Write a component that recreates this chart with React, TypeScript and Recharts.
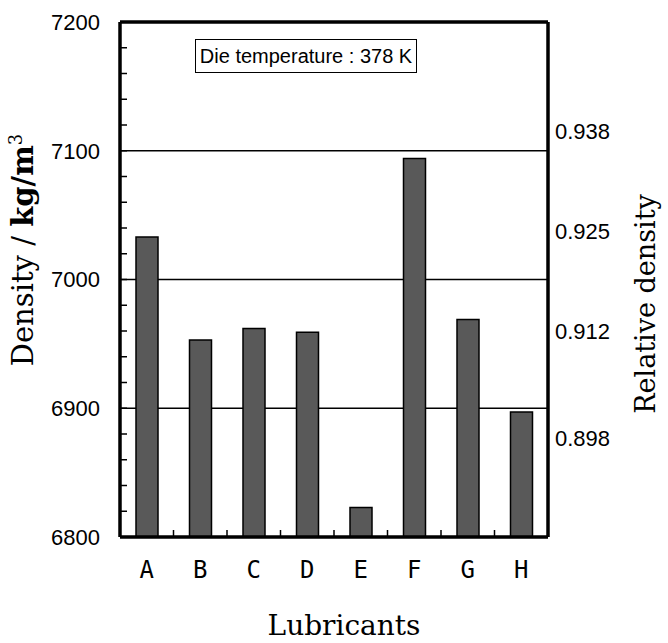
import { Bar, BarChart, CartesianGrid, ReferenceLine, XAxis, YAxis } from "recharts";

const LUBRICANTS = ["A", "B", "C", "D", "E", "F", "G", "H"];
const DENSITY = [7033, 6953, 6962, 6959, 6823, 7094, 6969, 6897];

// left axis: minor tick every 20, label every 100
const DENSITY_TICKS = [
  6800, 6820, 6840, 6860, 6880, 6900, 6920, 6940, 6960, 6980, 7000,
  7020, 7040, 7060, 7080, 7100, 7120, 7140, 7160, 7180, 7200,
];
const DENSITY_LABELS = [6800, 6900, 7000, 7100, 7200];
const GRID_LINES = [6900, 7000, 7100];

const RELATIVE_TICKS = [0.898, 0.912, 0.925, 0.938];
const RELATIVE_DOMAIN = [0.8852, 0.9522];

const data = LUBRICANTS.map((name, i) => ({ name, density: DENSITY[i] }));

const sans = "'Liberation Sans', Arial, sans-serif";
const serif = "'DejaVu Serif', serif";
const X_TICK_MARGIN = 24;

// category label plus a short inward mark on the right edge of its band
function CategoryTick(props: any) {
  const { x, y, payload, index, visibleTicksCount, width } = props;
  const axisY = y - X_TICK_MARGIN;
  const half = payload?.offset ?? (width && visibleTicksCount ? width / visibleTicksCount / 2 : 0);
  const edge = x + half;
  return (
    <g>
      {index < visibleTicksCount - 1 ? (
        <line x1={edge} x2={edge} y1={axisY} y2={axisY - 7} stroke="#000" strokeWidth={1.5} />
      ) : null}
      <text
        x={x}
        y={y}
        dy="0.71em"
        textAnchor="middle"
        fill="#000"
        fontSize={24}
        fontFamily="'Liberation Sans Narrow', 'DejaVu Sans Mono', monospace"
      >
        {payload.value}
      </text>
    </g>
  );
}

function DensityTitle() {
  const x = 33;
  const y = 250;
  return (
    <text
      x={x}
      y={y}
      transform={`rotate(-90 ${x} ${y})`}
      textAnchor="middle"
      fontFamily={serif}
      fontSize={29}
      fill="#000"
    >
      <tspan>Density / </tspan>
      <tspan fontWeight="bold">kg/m</tspan>
      <tspan dy={-11} fontSize={18}>3</tspan>
    </text>
  );
}

function RelativeTitle() {
  const x = 655;
  const y = 304;
  return (
    <text
      x={x}
      y={y}
      transform={`rotate(-90 ${x} ${y})`}
      textAnchor="middle"
      fontFamily={serif}
      fontSize={27}
      fill="#000"
    >
      Relative density
    </text>
  );
}

function LubricantsTitle() {
  return (
    <text x={344} y={635} textAnchor="middle" fontFamily={serif} fontSize={28} fill="#000">
      Lubricants
    </text>
  );
}

export default function App() {
  return (
    <div style={{ position: "relative", width: 668, height: 643, background: "#fff" }}>
      <style>{"body{margin:0}"}</style>
      <BarChart
        width={668}
        height={643}
        data={data}
        margin={{ top: 22, right: 0, bottom: 0, left: 0 }}
      >
        <CartesianGrid
          yAxisId="density"
          horizontal
          vertical={false}
          horizontalValues={GRID_LINES}
          stroke="#000"
          strokeWidth={1.5}
        />
        <XAxis
          dataKey="name"
          height={106}
          interval={0}
          tickLine={false}
          tickSize={0}
          tickMargin={X_TICK_MARGIN}
          axisLine={{ stroke: "#000", strokeWidth: 3.5 }}
          tick={<CategoryTick />}
          label={{ content: () => <LubricantsTitle /> }}
        />
        <YAxis
          yAxisId="density"
          width={120}
          domain={[6800, 7200]}
          ticks={DENSITY_TICKS}
          interval={0}
          allowDataOverflow
          tickFormatter={(v: number) => (DENSITY_LABELS.includes(v) ? String(v) : "")}
          tickSize={-7}
          tickMargin={27}
          tickLine={{ stroke: "#000", strokeWidth: 1.5 }}
          axisLine={{ stroke: "#000", strokeWidth: 3.5 }}
          tick={{ fill: "#000", fontSize: 22, fontFamily: sans }}
          label={{ content: () => <DensityTitle /> }}
        />
        <YAxis
          yAxisId="relative"
          orientation="right"
          width={120}
          type="number"
          domain={RELATIVE_DOMAIN}
          ticks={RELATIVE_TICKS}
          interval={0}
          allowDataOverflow
          tickFormatter={(v: number) => v.toFixed(3)}
          tickLine={false}
          tickSize={0}
          tickMargin={7}
          axisLine={{ stroke: "#000", strokeWidth: 3.5 }}
          tick={{ fill: "#000", fontSize: 22, fontFamily: sans }}
          label={{ content: () => <RelativeTitle /> }}
        />
        <ReferenceLine yAxisId="density" y={7200} stroke="#000" strokeWidth={3.5} />
        <Bar
          yAxisId="density"
          dataKey="density"
          barSize={22}
          fill="#595959"
          stroke="#000"
          strokeWidth={1.5}
          isAnimationActive={false}
        />
      </BarChart>
      <div
        style={{
          position: "absolute",
          left: 195,
          top: 39,
          width: 222,
          height: 34,
          boxSizing: "border-box",
          border: "1.5px solid #000",
          background: "#fff",
          display: "flex",
          alignItems: "center",
          justifyContent: "center",
          fontFamily: sans,
          fontSize: 20,
          color: "#000",
        }}
      >
        Die temperature : 378 K
      </div>
    </div>
  );
}
